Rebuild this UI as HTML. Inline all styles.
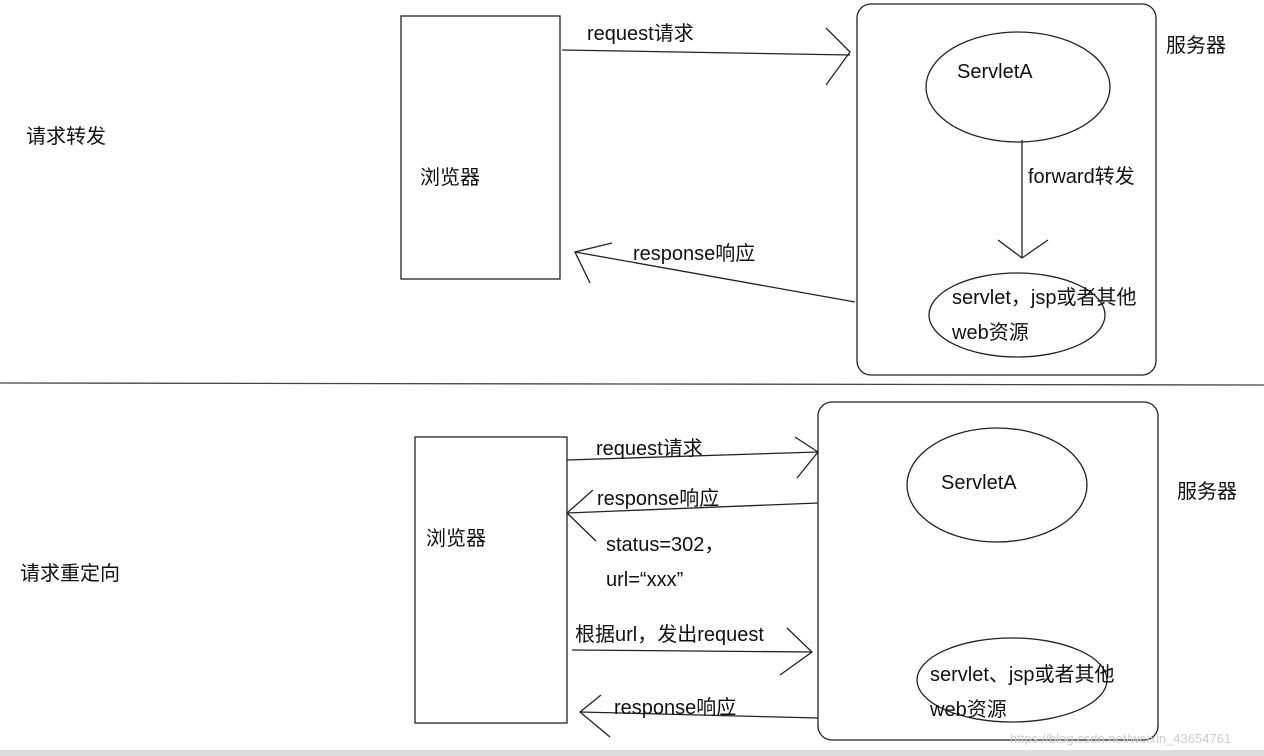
<!DOCTYPE html>
<html><head><meta charset="utf-8"><style>
body{margin:0;background:#fff;}
svg{display:block;font-family:"Liberation Sans","Noto Sans CJK SC",sans-serif;}
text{font-size:20px;fill:#111;}
</style></head><body>
<svg width="1264" height="756" viewBox="0 0 1264 756" xmlns="http://www.w3.org/2000/svg">
<g fill="none" stroke="#222" stroke-width="1.3">
<rect x="401" y="16" width="159" height="263"/>
<rect x="857" y="4" width="299" height="371" rx="14"/>
<ellipse cx="1018" cy="87" rx="92" ry="55"/>
<ellipse cx="1017" cy="315" rx="88" ry="42"/>
<line x1="1022" y1="140" x2="1022" y2="258"/>
<polyline points="998,240 1022,258 1048,240"/>
<line x1="562" y1="50" x2="850" y2="55"/>
<polyline points="826,28 850,52 826,85"/>
<line x1="855" y1="302" x2="575" y2="252"/>
<polyline points="612,243 575,252 590,283"/>
<line x1="0" y1="383" x2="1264" y2="385" stroke="#444"/>
<rect x="415" y="437" width="152" height="286"/>
<rect x="818" y="402" width="340" height="338" rx="14"/>
<ellipse cx="997" cy="485" rx="90" ry="57"/>
<ellipse cx="1012" cy="680" rx="95" ry="42"/>
<line x1="567" y1="460" x2="818" y2="452"/>
<polyline points="795,437 818,452 797,478"/>
<line x1="818" y1="503" x2="567" y2="513"/>
<polyline points="593,490 567,513 596,541"/>
<line x1="572" y1="650" x2="812" y2="652"/>
<polyline points="787,628 812,652 780,675"/>
<line x1="818" y1="718" x2="580" y2="712"/>
<polyline points="601,695 580,712 610,737"/>
</g>
<rect x="0" y="750" width="1264" height="6" fill="#ddd"/>
<text x="26" y="143">请求转发</text>
<text x="420" y="184">浏览器</text>
<text x="587" y="40">request请求</text>
<text x="633" y="260">response响应</text>
<text x="1166" y="52">服务器</text>
<text x="957" y="78">ServletA</text>
<text x="1028" y="183">forward转发</text>
<text x="952" y="304">servlet，jsp或者其他</text>
<text x="952" y="339">web资源</text>
<text x="20" y="580">请求重定向</text>
<text x="426" y="545">浏览器</text>
<text x="596" y="455">request请求</text>
<text x="597" y="505">response响应</text>
<text x="606" y="551">status=302，</text>
<text x="606" y="586">url=“xxx”</text>
<text x="575" y="641">根据url，发出request</text>
<text x="614" y="714">response响应</text>
<text x="1177" y="498">服务器</text>
<text x="941" y="489">ServletA</text>
<text x="930" y="681">servlet、jsp或者其他</text>
<text x="930" y="716">web资源</text>
<text x="1010" y="743" style="font-size:13px;fill:#ccc">https://blog.csdn.net/weixin_43654761</text>
</svg>
</body></html>
